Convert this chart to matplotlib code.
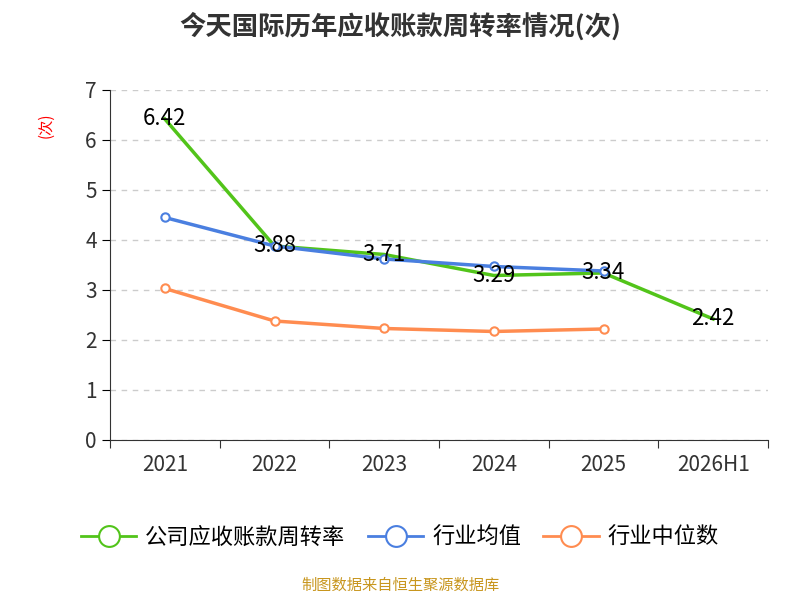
import matplotlib.pyplot as plt
from matplotlib.lines import Line2D

plt.rcParams['font.family'] = ['Noto Sans CJK SC', 'DejaVu Sans']

years = ['2021', '2022', '2023', '2024', '2025', '2026H1']
company = [6.42, 3.88, 3.71, 3.29, 3.34, 2.42]
ind_mean = [4.45, 3.88, 3.62, 3.47, 3.38]
ind_median = [3.03, 2.38, 2.23, 2.17, 2.22]

green = '#52c41a'
blue = '#4a7fe0'
orange = '#ff8c50'

fig = plt.figure(figsize=(8, 6), dpi=100)
ax = fig.add_axes([0.1375, 0.2667, 0.8225, 0.5833])

x = list(range(len(years)))
ax.plot(x, company, color=green, lw=2.5, zorder=3)
ax.plot(x[:5], ind_mean, color=blue, lw=2.5, marker='o', ms=6,
        mfc='white', mec=blue, mew=1.5, zorder=4)
ax.plot(x[:5], ind_median, color=orange, lw=2.5, marker='o', ms=6,
        mfc='white', mec=orange, mew=1.5, zorder=4)
for i, v in enumerate(company):
    ax.text(i, v, f'{v:.2f}', ha='center', va='center', fontsize=16,
            color='black', zorder=5)

ax.set_xlim(-0.5, 5.5)
ax.set_ylim(0, 7)
ax.set_xticks([i - 0.5 for i in range(7)], minor=False)
ax.set_xticklabels([])
ax.set_xticks(x, minor=True)
ax.set_xticklabels(years, minor=True, fontsize=15, color='#333333')
ax.tick_params(axis='x', which='minor', length=0, pad=10)
ax.tick_params(axis='x', which='major', length=6, color='#333333')
ax.set_yticks(range(8))
ax.tick_params(axis='y', labelsize=15, labelcolor='#333333', length=6)
ax.grid(axis='y', ls=(0, (4, 4)), color='#cccccc', lw=1)
for s in ['top', 'right']:
    ax.spines[s].set_visible(False)
ax.spines['left'].set_color('#333333')
ax.spines['bottom'].set_color('#333333')
ax.set_ylabel('(次)', color='red', fontsize=11, labelpad=0)
ax.yaxis.set_label_coords(-0.085, 0.9)

fig.suptitle('今天国际历年应收账款周转率情况(次)', fontsize=19,
             fontweight='bold', x=0.5, y=0.98, color='#333333')

handles = [Line2D([], [], color=c, lw=2, marker='o', ms=15, mfc='white',
                  mec=c, mew=1.5) for c in (green, blue, orange)]
fig.legend(handles, ['公司应收账款周转率', '行业均值', '行业中位数'],
           loc='center', bbox_to_anchor=(0.5, 0.105), ncol=3, frameon=False,
           fontsize=16, handlelength=2.5, columnspacing=1.0, handletextpad=0.4)

fig.text(0.5, 0.017, '制图数据来自恒生聚源数据库', ha='center', fontsize=11,
         color='#c8961e')

fig.savefig('out.png')
